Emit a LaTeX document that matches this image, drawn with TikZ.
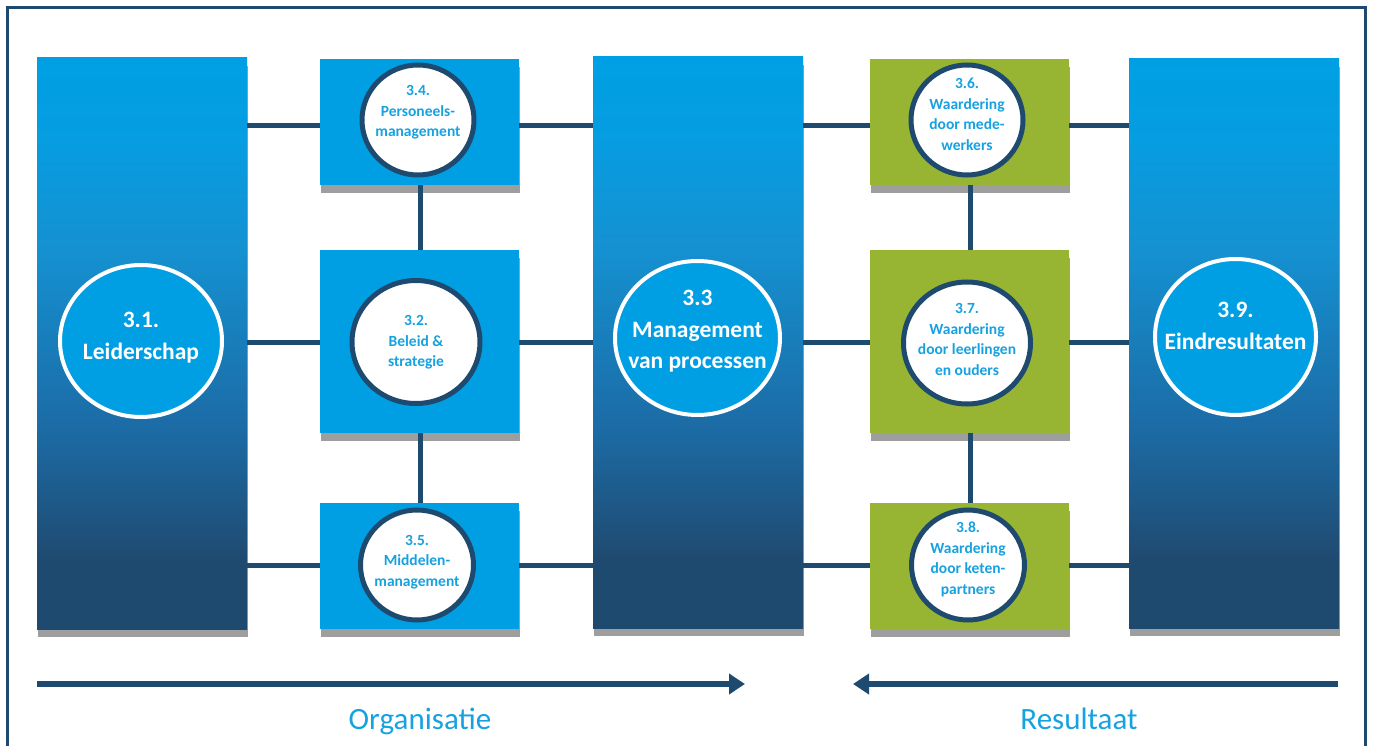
\documentclass[tikz,border=0pt]{standalone}
\usepackage{fontspec}
\setmainfont{Carlito}
\usetikzlibrary{shapes.geometric,arrows.meta,shadows}

\definecolor{ekcyan}{RGB}{0,159,227}
\definecolor{ekdark}{RGB}{31,74,112}
\definecolor{ekgreen}{RGB}{151,180,51}
\definecolor{ekshade}{RGB}{158,158,158}
\definecolor{ektext}{RGB}{22,162,224}
\definecolor{gradA}{HTML}{1C6BA5}
\definecolor{gradB}{HTML}{187EBB}
\definecolor{gradC}{HTML}{1591D1}
\definecolor{gradD}{HTML}{069DE1}

% cyan at the top fading into dark blue at the bottom
\pgfdeclareverticalshading{pillarfade}{100bp}{%
  color(0bp)=(ekdark); color(25bp)=(ekdark); color(31bp)=(ekdark);
  color(42.5bp)=(gradA); color(50.4bp)=(gradB); color(58.2bp)=(gradC);
  color(68bp)=(gradD); color(75bp)=(ekcyan); color(100bp)=(ekcyan)}

\tikzset{
  boxshadow/.style={general shadow={fill=ekshade, shadow xshift=1.2pt, shadow yshift=-8pt}},
  colbox/.style={rectangle, inner sep=0pt, minimum width=210pt, shading=pillarfade, boxshadow},
  bluebox/.style={rectangle, inner sep=0pt, minimum width=199pt, fill=ekcyan, boxshadow},
  greenbox/.style={rectangle, inner sep=0pt, minimum width=199pt, fill=ekgreen, boxshadow},
  smallring/.style={ellipse, inner sep=0pt, draw=ekdark, line width=5pt, fill=white},
  bigring/.style={ellipse, inner sep=0pt, draw=white, line width=4pt, fill=ekcyan},
  smalltxt/.style={align=center, text=ektext, font=\bfseries\fontsize{15.5}{20.5}\selectfont},
  bigtxt/.style={align=center, text=white, font=\bfseries\fontsize{23.5}{31.5}\selectfont},
  conn/.style={draw=ekdark, line width=5pt},
  flow/.style={draw=ekdark, line width=6pt, -{Triangle[length=16pt,width=20pt]}},
  flowtxt/.style={anchor=base, text=ektext, font=\fontsize{31}{36}\selectfont},
}

\begin{document}
\begin{tikzpicture}[x=1pt, y=-1pt]
\useasboundingbox (0,0) rectangle (1374,746);

% tall columns
\node[colbox, minimum height=571pt] (c1) at (142,343.5) {};
\node[colbox, minimum height=571pt] (c3) at (698,342.5) {};
\node[colbox, minimum height=569pt] (c9) at (1234,343.5) {};

% organisation boxes
\node[bluebox, minimum height=126pt] (b34) at (419.5,122) {};
\node[bluebox, minimum height=183pt] (b32) at (419.5,341.5) {};
\node[bluebox, minimum height=126pt] (b35) at (419.5,566) {};

% result boxes
\node[greenbox, minimum height=126pt] (g36) at (969.5,122) {};
\node[greenbox, minimum height=183pt] (g37) at (969.5,341.5) {};
\node[greenbox, minimum height=126pt] (g38) at (969.5,566) {};

% rows and columns of the connectors
\coordinate (row1) at (0,125.5);
\coordinate (row2) at (0,342);
\coordinate (row3) at (0,565.5);
\coordinate (vleft) at (420.5,0);
\coordinate (vright) at (970.5,0);

\foreach \r/\b/\g in {row1/b34/g36, row2/b32/g37, row3/b35/g38} {
  \draw[conn] (c1.east |- \r) -- (\b.west |- \r);
  \draw[conn] (\b.east |- \r) -- (c3.west |- \r);
  \draw[conn] (c3.east |- \r) -- (\g.west |- \r);
  \draw[conn] (\g.east |- \r) -- (c9.west |- \r);
}
\draw[conn] (b34.south -| vleft) -- (b32.north -| vleft);
\draw[conn] (b32.south -| vleft) -- (b35.north -| vleft);
\draw[conn] (g36.south -| vright) -- (g37.north -| vright);
\draw[conn] (g37.south -| vright) -- (g38.north -| vright);

% rings
\node[smallring, minimum width=112pt, minimum height=110pt] (r34) at (418,120) {};
\node[smallring, minimum width=128pt, minimum height=123pt] (r32) at (416,342) {};
\node[smallring, minimum width=113pt, minimum height=110pt] (r35) at (417,565) {};
\node[smallring, minimum width=112pt, minimum height=110pt] (r36) at (967,120) {};
\node[smallring, minimum width=127pt, minimum height=122pt] (r37) at (967,343) {};
\node[smallring, minimum width=113pt, minimum height=110pt] (r38) at (968,565) {};

\node[bigring, minimum width=162pt, minimum height=152pt] (r31) at (141,341) {};
\node[bigring, minimum width=165pt, minimum height=154pt] (r33) at (697.5,338) {};
\node[bigring, minimum width=161pt, minimum height=156pt] (r39) at (1235.5,337) {};

% ring texts
\node[smalltxt] (t34) at (418,112.5) {3.4.\\Personeels-\\management};
\node[smalltxt] (t32) at (416,342.5) {3.2.\\Beleid \&\\strategie};
\node[smalltxt] (t35) at (417,562) {3.5.\\Middelen-\\management};
\node[smalltxt] (t36) at (967,114.5) {3.6.\\Waardering\\door mede-\\werkers};
\node[smalltxt] (t37) at (967,339.5) {3.7.\\Waardering\\door leerlingen\\en ouders};
\node[smalltxt] (t38) at (968,559.5) {3.8.\\Waardering\\door keten-\\partners};

\node[bigtxt] (t31) at (141,337.5) {3.1.\\Leiderschap};
\node[bigtxt] (t33) at (697.5,331.5) {3.3\\Management\\van processen};
\node[bigtxt] (t39) at (1235.5,326) {3.9.\\Eindresultaten};

% direction arrows and their captions
\coordinate (orgS) at (37,684);
\coordinate (orgE) at (745,684);
\coordinate (resS) at (1338,684);
\coordinate (resE) at (853,684);
\draw[flow] (orgS) -- (orgE);
\draw[flow] (resS) -- (resE);
\node[flowtxt] (lorg) at (420,729) {Organisatie};
\node[flowtxt] (lres) at (1079,729) {Resultaat};

% outer frame
\draw[ekdark, line width=2.7pt] (7.3,7.3) rectangle (1365.7,770);
\end{tikzpicture}
\end{document}
